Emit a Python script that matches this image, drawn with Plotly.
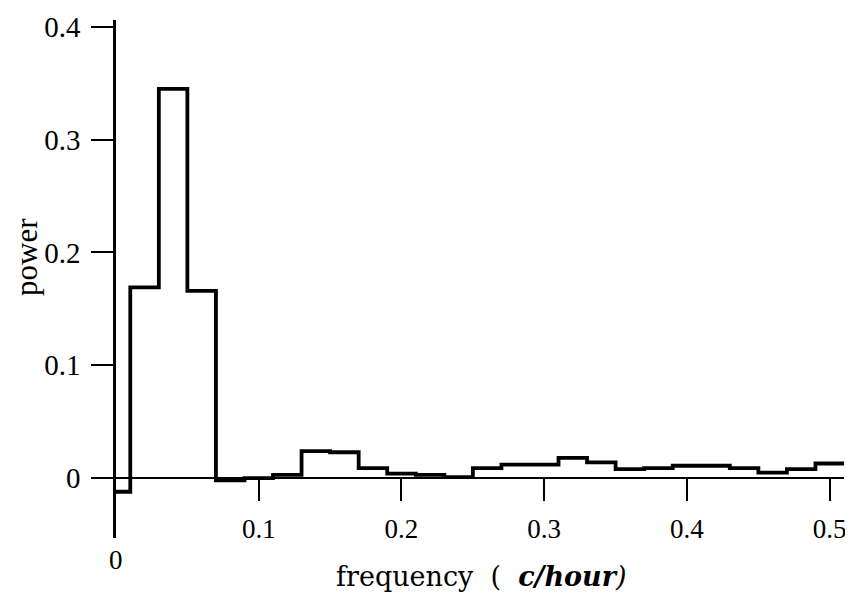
import plotly.graph_objects as go

# data: power spectrum, bins of width 0.02 c/hour
freq = [0.00, 0.02, 0.04, 0.06, 0.08, 0.10, 0.12, 0.14, 0.16, 0.18, 0.20, 0.22, 0.24,
        0.26, 0.28, 0.30, 0.32, 0.34, 0.36, 0.38, 0.40, 0.42, 0.44, 0.46, 0.48, 0.50]
power = [-0.012, 0.169, 0.345, 0.166, -0.002, 0.000, 0.003, 0.024, 0.023, 0.009, 0.004,
         0.003, 0.001, 0.009, 0.012, 0.012, 0.018, 0.014, 0.008, 0.009, 0.011, 0.011,
         0.009, 0.005, 0.008, 0.013]
ytick_vals = [0, 0.1, 0.2, 0.3, 0.4]
ytick_text = ["0", "0.1", "0.2", "0.3", "0.4"]
xtick_vals = [0.1, 0.2, 0.3, 0.4, 0.5]
xtick_text = ["0.1", "0.2", "0.3", "0.4", "0.5"]

half = (freq[1] - freq[0]) / 2
xs = freq + [freq[-1] + half]
ys = power + [power[-1]]

ymin, ymax = -0.053, 0.406
xmin, xmax = 0.0, 0.51
FONT = "Liberation Serif"

fig = go.Figure()
fig.add_trace(go.Scatter(x=xs, y=ys, mode="lines", line=dict(color="black", width=3.8, shape="hvh"),
                         showlegend=False, cliponaxis=False))

# the page body has an 8px margin, so the figure is sized to fit the 853x596 window
fig.update_layout(
    width=845, height=588,
    margin=dict(l=108, r=9, t=3, b=58),
    paper_bgcolor="white", plot_bgcolor="white",
    font=dict(family=FONT, color="black", size=27),
    xaxis=dict(range=[xmin, xmax], showgrid=False, zeroline=False, showline=True,
               linecolor="black", linewidth=2, anchor="free",
               position=(0 - ymin) / (ymax - ymin),
               ticks="outside", ticklen=22, tickwidth=2, tickcolor="black",
               ticklabeloverflow="allow", ticklabelstandoff=4,
               tickvals=xtick_vals, ticktext=xtick_text, tickfont=dict(size=27)),
    yaxis=dict(range=[ymin, ymax], showgrid=False, zeroline=False, showline=True,
               linecolor="black", linewidth=2.5,
               ticks="outside", ticklen=22, tickwidth=2, tickcolor="black",
               ticklabelstandoff=5, ticklabeloverflow="allow",
               tickvals=ytick_vals, ticktext=ytick_text, tickfont=dict(size=29)),
)

fig.add_annotation(x=0, y=0, xref="x", yref="paper", yanchor="middle", yshift=-22,
                   text="0", showarrow=False, font=dict(size=27))
fig.add_annotation(x=0.256, y=0, xref="x", yref="paper", yanchor="middle", yshift=-38,
                   text="frequency&nbsp;&nbsp;(&nbsp;&nbsp;<i><b>c/hour</b>)</i>", showarrow=False,
                   font=dict(family="DejaVu Serif", size=27))
fig.add_annotation(x=0, y=0.196, xref="paper", yref="y", xanchor="center", xshift=-89,
                   textangle=-90, text="power", showarrow=False, font=dict(size=31))

fig.write_html("out.html")
